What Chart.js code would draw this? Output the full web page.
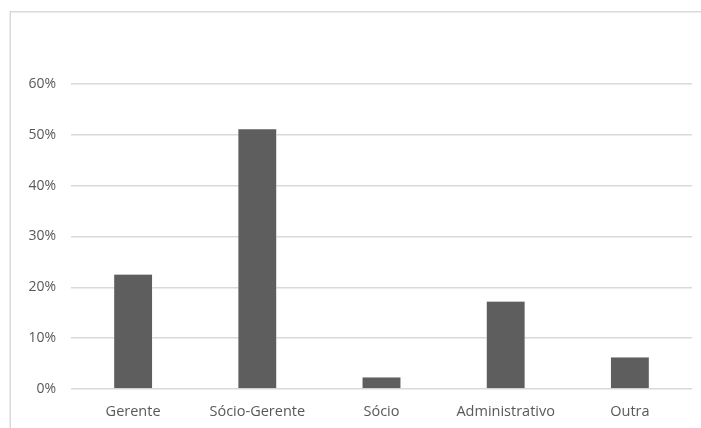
<!DOCTYPE html>
<html>
<head>
<meta charset="utf-8">
<script src="https://cdn.jsdelivr.net/npm/chart.js@4/dist/chart.umd.min.js"></script>
<style>
  html, body { margin: 0; padding: 0; background: #ffffff; }
  #wrap { width: 701px; height: 428px; position: relative; }
</style>
</head>
<body>
<div id="wrap"><canvas id="c" width="701" height="428"></canvas></div>
<script>
// Função exercida pelos inquiridos (proporção de respostas)
const categories = ["Gerente", "Sócio-Gerente", "Sócio", "Administrativo", "Outra"];
const shares = [0.226, 0.512, 0.024, 0.173, 0.063];
const yTickMax = 0.6;
const yTickStep = 0.1;

const textColor = "#595959";
const gridColor = "#d9d9d9";
const barColor = "#5e5e5e";

// Light frame around the chart area
const framePlugin = {
  id: "frame",
  beforeDraw(chart) {
    const ctx = chart.ctx;
    ctx.save();
    ctx.fillStyle = "#ffffff";
    ctx.fillRect(0, 0, chart.width, chart.height);
    ctx.strokeStyle = gridColor;
    ctx.lineWidth = 1.5;
    ctx.strokeRect(10.25, 11.75, chart.width + 20, chart.height + 20);
    ctx.restore();
  }
};

new Chart(document.getElementById("c"), {
  type: "bar",
  data: {
    labels: categories,
    datasets: [{
      data: shares,
      backgroundColor: barColor,
      borderColor: "#e6e6e6",
      borderWidth: 0.6,
      barPercentage: 0.314,
      categoryPercentage: 1.0
    }]
  },
  options: {
    responsive: false,
    animation: false,
    layout: { padding: { top: 84, right: 9, bottom: 0, left: 0 } },
    plugins: {
      legend: { display: false },
      tooltip: { enabled: false }
    },
    scales: {
      x: {
        grid: { display: false, drawTicks: false },
        border: { display: false },
        ticks: {
          color: textColor,
          font: { family: "Open Sans", size: 14.5 },
          padding: 14,
          maxRotation: 0
        },
        afterFit(scale) { scale.height = 39; }
      },
      y: {
        min: 0,
        max: yTickMax,
        grid: { color: gridColor, lineWidth: 1.5, drawTicks: false },
        border: { display: false },
        ticks: {
          stepSize: yTickStep,
          color: textColor,
          font: { family: "Open Sans", size: 14 },
          padding: 15,
          callback: v => Math.round(v * 100) + "%"
        },
        afterFit(scale) { scale.width = 71; }
      }
    }
  },
  plugins: [framePlugin]
});
</script>
</body>
</html>
